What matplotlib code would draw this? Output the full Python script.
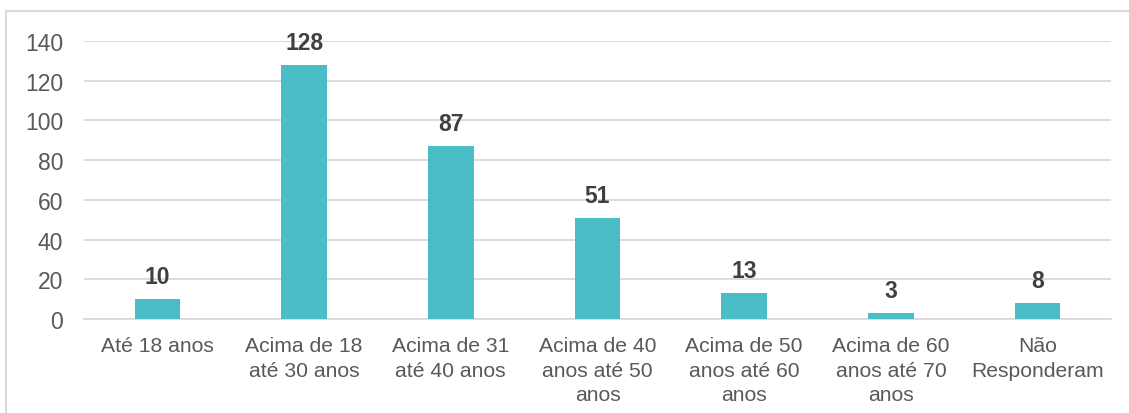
import matplotlib.pyplot as plt
from matplotlib.lines import Line2D

categories = ['Até 18 anos', 'Acima de 18\naté 30 anos', 'Acima de 31\naté 40 anos',
              'Acima de 40\nanos até 50\nanos', 'Acima de 50\nanos até 60\nanos',
              'Acima de 60\nanos até 70\nanos', 'Não\nResponderam']
values = [10, 128, 87, 51, 13, 3, 8]

plt.rcParams['font.family'] = ['Liberation Sans', 'DejaVu Sans']

fig = plt.figure(figsize=(11.29, 4.14), dpi=100)
ax = fig.add_axes([84/1129, 1-320/414, (1111-84)/1129, (320-42)/414])

x = range(len(categories))
bars = ax.bar(x, values, width=0.31, color='#4BBDC6', zorder=3)

for xi, v in zip(x, values):
    ax.annotate(str(v), (xi, v), xytext=(0, 7.8), textcoords='offset points',
                ha='center', va='bottom', fontsize=16.5, fontweight='bold', color='#404040')

ax.set_xlim(-0.5, len(categories) - 0.5)
ax.set_ylim(0, 140)
ax.set_yticks(range(0, 141, 20))
ax.set_xticks(list(x))
ax.set_xticklabels(categories, fontsize=15.2, color='#595959', linespacing=1.36)
ax.tick_params(axis='y', labelsize=16.5, labelcolor='#595959', length=0, pad=15)
ax.tick_params(axis='x', length=0, pad=12.5)
ax.grid(axis='y', color='#D9D9D9', linewidth=1.3, zorder=0)
for s in ['top', 'right', 'left']:
    ax.spines[s].set_visible(False)
ax.spines['bottom'].set_color('#D9D9D9')
ax.spines['bottom'].set_linewidth(1.3)

# outer chart border (only left and top visible in the crop)
fig.add_artist(Line2D([6/1129, 6/1129], [0, 1-12/414], transform=fig.transFigure,
                      color='#D9D9D9', linewidth=1.5))
fig.add_artist(Line2D([6/1129, 1], [1-12/414, 1-12/414], transform=fig.transFigure,
                      color='#D9D9D9', linewidth=1.5))

fig.savefig('out.png', dpi=100)
